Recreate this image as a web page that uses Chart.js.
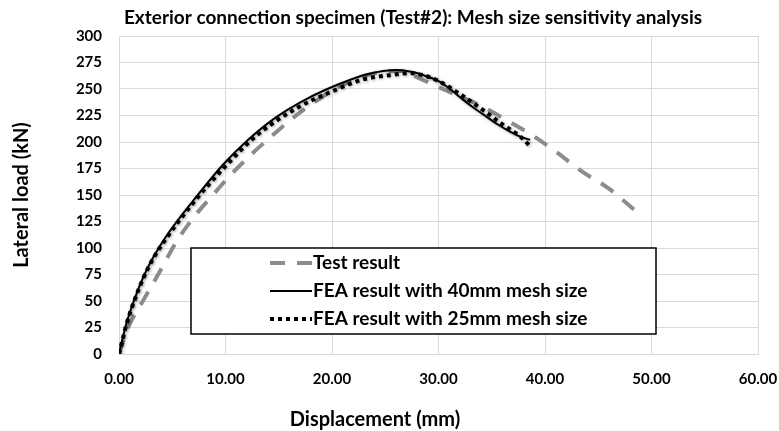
<!DOCTYPE html>
<html>
<head>
<meta charset="utf-8">
<script src="https://cdn.jsdelivr.net/npm/chart.js@4/dist/chart.umd.min.js"></script>
<style>
html,body{margin:0;padding:0;background:#fff;}
#wrap{position:relative;width:779px;height:431px;}
</style>
</head>
<body>
<div id="wrap"><canvas id="c" width="779" height="431"></canvas></div>
<script>
const chartTitle = "Exterior connection specimen (Test#2): Mesh size sensitivity analysis";
const xAxisTitle = "Displacement (mm)";
const yAxisTitle = "Lateral load (kN)";
const seriesLabels = ["Test result", "FEA result with 40mm mesh size", "FEA result with 25mm mesh size"];

const testX = [0, 0.9, 2.3, 3.9, 5.4, 7.1, 8.9, 10.4, 12.5, 14.5, 16.5, 19, 21.5, 24, 26.5, 28, 29.5, 32, 34, 36.5, 39, 41, 43.5, 46, 48.5];
const testY = [0, 26, 51, 79, 106, 130, 151, 168, 189, 207, 224, 242, 256, 265, 267, 261, 254, 243, 234, 220, 205, 191, 172, 156, 135];

const fea40X = [0, 0.3, 0.7, 1.5, 2.3, 3.2, 4.5, 7.0, 9.8, 12.0, 14.7, 17.5, 20.5, 23.3, 26.1, 27.6, 28.6, 30.1, 31.2, 32.3, 33.2, 34.2, 35.5, 36.5, 37.7, 38.6];
const fea40Y = [0, 13, 29, 53, 73, 91, 112, 145, 179, 201, 223, 240, 254, 264, 268, 266, 263, 257, 249, 240, 233, 226, 217, 211, 205, 202];

const fea25X = [0, 0.3, 0.7, 1.5, 2.3, 3.2, 4.5, 7.0, 9.8, 12.9, 16.7, 20.3, 22.9, 25.4, 27.3, 28.9, 30.1, 32.2, 34.2, 36.1, 37.7, 38.6];
const fea25Y = [0, 12, 28, 52, 72, 90, 110, 143, 175, 206, 232, 249, 259, 263, 265, 262, 257, 244, 230, 216, 205, 196];

const xMin = 0, xMax = 60, xStep = 10;
const yMin = 0, yMax = 300, yStep = 25;

const pts = (xs, ys) => xs.map((x, i) => ({x: x, y: ys[i]}));
const FONT = "Lato, 'Open Sans', sans-serif";

const decoPlugin = {
  id: 'deco',
  beforeDatasetDraw(chart, args) {
    const ctx = chart.ctx;
    ctx.save();
    if (args.index > 0) {
      ctx.shadowColor = 'rgba(0,0,0,0.35)';
      ctx.shadowBlur = 3;
      ctx.shadowOffsetX = 1;
      ctx.shadowOffsetY = 1;
    }
  },
  afterDatasetDraw(chart) {
    chart.ctx.restore();
  },
  afterDraw(chart) {
    const ctx = chart.ctx;
    ctx.save();
    ctx.fillStyle = '#000';
    ctx.textAlign = 'center';
    ctx.textBaseline = 'middle';
    ctx.font = "bold 19px " + FONT;
    ctx.fillText(chartTitle, 413, 18);
    ctx.font = "bold 20px " + FONT;
    ctx.fillText(xAxisTitle, 375, 420);
    const bx = 191, by = 248, bw = 465, bh = 86;
    ctx.fillStyle = '#fff';
    ctx.fillRect(bx, by, bw, bh);
    ctx.strokeStyle = '#000';
    ctx.lineWidth = 1.5;
    ctx.strokeRect(bx, by, bw, bh);
    const rows = [263, 291, 319];
    chart.data.datasets.forEach((ds, i) => {
      const y = rows[i];
      ctx.save();
      ctx.strokeStyle = ds.borderColor;
      ctx.lineWidth = ds.borderWidth;
      ctx.setLineDash(ds.borderDash || []);
      ctx.lineCap = 'butt';
      ctx.beginPath();
      ctx.moveTo(270, y);
      ctx.lineTo(312, y);
      ctx.stroke();
      ctx.restore();
      ctx.fillStyle = '#000';
      ctx.font = "bold 19px " + FONT;
      ctx.textAlign = 'left';
      ctx.textBaseline = 'middle';
      ctx.fillText(ds.label, 313, y);
    });
    ctx.restore();
  }
};

new Chart(document.getElementById('c'), {
  type: 'line',
  data: {
    datasets: [
      {label: seriesLabels[0], data: pts(testX, testY), borderColor: '#8c8c8c', borderWidth: 4, borderDash: [15, 12], pointRadius: 0, cubicInterpolationMode: 'monotone', fill: false, order: 3},
      {label: seriesLabels[1], data: pts(fea40X, fea40Y), borderColor: '#000000', borderWidth: 2, borderDash: [], pointRadius: 0, cubicInterpolationMode: 'monotone', fill: false, order: 2},
      {label: seriesLabels[2], data: pts(fea25X, fea25Y), borderColor: '#000000', borderWidth: 4, borderDash: [4, 4], pointRadius: 0, cubicInterpolationMode: 'monotone', fill: false, order: 1}
    ]
  },
  options: {
    responsive: false,
    animation: false,
    layout: {padding: {top: 36, right: 21, bottom: 0, left: 0}},
    plugins: {legend: {display: false}, title: {display: false}, tooltip: {enabled: false}},
    scales: {
      x: {
        type: 'linear', min: xMin, max: xMax,
        ticks: {stepSize: xStep, padding: 16, color: '#000', font: {family: FONT, size: 15, weight: 'bold'}, callback: v => v.toFixed(2)},
        grid: {color: '#d9d9d9', lineWidth: 1, drawTicks: false},
        border: {color: '#d9d9d9'},
        title: {display: false, text: xAxisTitle},
        afterFit: s => { s.height = 77; s.paddingRight = 0; s.paddingLeft = 0; }
      },
      y: {
        type: 'linear', min: yMin, max: yMax,
        ticks: {stepSize: yStep, padding: 17, color: '#000', font: {family: FONT, size: 15, weight: 'bold'}},
        grid: {color: '#d9d9d9', lineWidth: 1, drawTicks: false},
        border: {color: '#d9d9d9'},
        title: {display: true, text: yAxisTitle, color: '#000', font: {family: FONT, size: 20, weight: 'bold'}, padding: {top: 10, bottom: 0}},
        afterFit: s => { s.width = 119; s.paddingTop = 0; s.paddingBottom = 0; }
      }
    }
  },
  plugins: [decoPlugin]
});
</script>
</body>
</html>
